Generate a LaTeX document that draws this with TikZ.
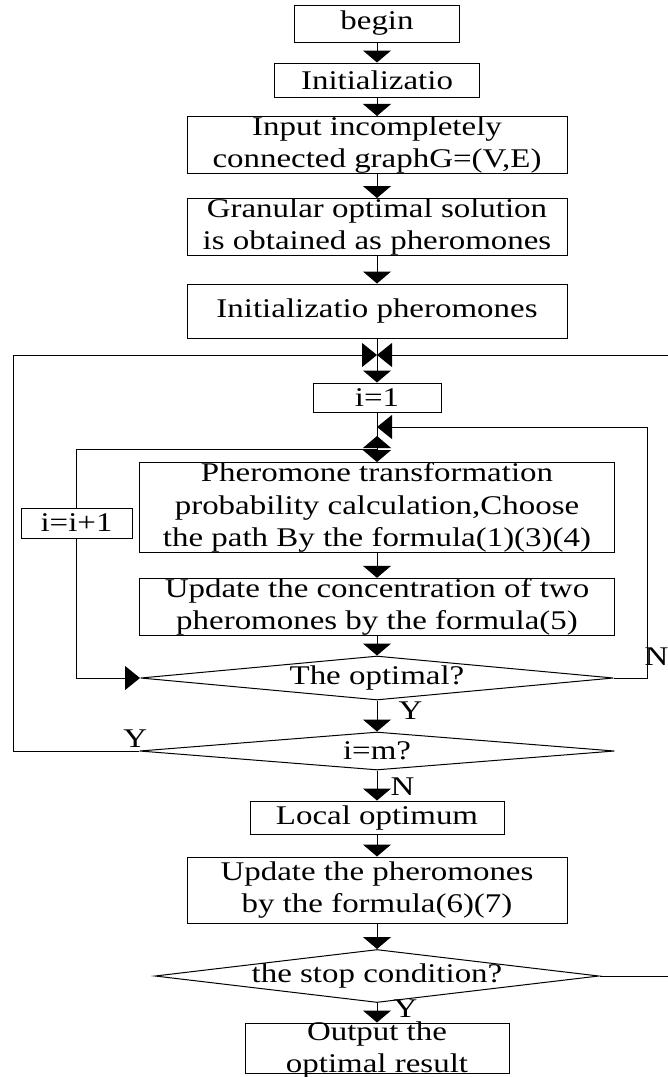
\documentclass[tikz,border=0pt]{standalone}
\usepackage{fontspec}
\setmainfont{Liberation Serif}[FakeStretch=1.22]
\usetikzlibrary{arrows.meta,shapes.geometric}

\begin{document}
\begin{tikzpicture}[x=1pt,y=-1pt,line width=1pt,
  font=\fontsize{27}{32.5}\selectfont,
  blk/.style={draw,rectangle,align=center,inner sep=0pt},
  dia/.style={draw,diamond,inner sep=0pt},
  arrV/.style={-{Triangle[width=28pt,length=12pt]}},
  arrH/.style={-{Triangle[width=24pt,length=15pt]}},
  yn/.style={inner sep=0pt}]
\def\cx{377} %centre of the main column
\useasboundingbox (0,0) rectangle (668,1077);
\fill[white] (0,0) rectangle (668,1077);

% main column
\node[blk,minimum width=165,minimum height=37] (begin) at (\cx,23.5) {begin};
\node[blk,minimum width=205,minimum height=34] (init) at (\cx,80) {Initializatio};
\node[blk,minimum width=380,minimum height=56] (input) at (\cx,145) {Input incompletely\\connected graphG=(V,E)};
\node[blk,minimum width=380,minimum height=56] (gran) at (\cx,227) {Granular optimal solution\\is obtained as pheromones};
\node[blk,minimum width=380,minimum height=54] (initph) at (\cx,311) {Initializatio pheromones};
\coordinate (join) at (\cx,355);
\node[blk,minimum width=128,minimum height=29] (ione) at (\cx,397.5) {i=1};
\coordinate (rin) at (\cx,427); % inner loop from the right
\coordinate (lin) at (\cx,449); % inner loop from the left
\node[blk,minimum width=475,minimum height=89] (prob) at (\cx,507.5) {Pheromone transformation\\probability calculation,Choose\\the path By the formula(1)(3)(4)};
\node[blk,minimum width=475,minimum height=56] (conc) at (\cx,607) {Update the concentration of two\\pheromones by the formula(5)};
\node[dia,minimum width=473,minimum height=44,label={center:The optimal?}] (opt) at (\cx,678) {};
\node[blk,minimum width=111,minimum height=30] (inc) at (76.5,523) {i=i+1};
\node[dia,minimum width=475,minimum height=38,label={center:i=m?}] (ism) at (\cx,751) {};
\node[blk,minimum width=254,minimum height=33] (local) at (\cx,817.5) {Local optimum};
\node[blk,minimum width=380,minimum height=66] (upd) at (\cx,890) {Update the pheromones\\by the formula(6)(7)};
\node[dia,minimum width=444,minimum height=53,label={center:the stop condition?}] (stop) at (\cx,976) {};
\node[draw,inner sep=0pt,minimum width=264,minimum height=50,
  label={[align=center,yshift=-2]center:Output the\\optimal result}] (out) at (\cx,1048) {};

% straight arrows
\draw[arrV] (begin) -- (init);
\draw[arrV] (init) -- (input);
\draw[arrV] (input) -- (gran);
\draw[arrV] (gran) -- (initph);
\draw (initph) -- (join);
\draw[arrV] (join) -- (ione);
\draw[arrV] (ione) -- (prob);
\draw[arrV] (prob) -- (conc);
\draw[arrV] (conc) -- (opt);
\draw[arrV] (opt) -- node[yn,anchor=west,pos=0.34,xshift=21]{Y} (ism);
\draw[arrV] (ism) -- node[yn,anchor=west,pos=0.55,xshift=13]{N} (local);
\draw[arrV] (local) -- (upd);
\draw[arrV] (upd) -- (stop);
\draw[arrV] (stop) -- node[yn,anchor=west,pos=0.3,xshift=16]{Y} (out);

% loops
\draw[arrH] (ism.west) -- node[yn,anchor=south,pos=0.03,yshift=3]{Y} (13,751) |- (join);
\draw[arrH] (stop.east) -- (675,976) |- (join);
\draw[arrH] (opt.east) -- (647,678) node[yn,anchor=south west,xshift=-3,yshift=12]{N} |- (rin);
\draw[arrH] (inc.south) |- (opt.west);
\draw[arrV] (inc.north) |- (lin) -- ++(0,-13);
\end{tikzpicture}
\end{document}
